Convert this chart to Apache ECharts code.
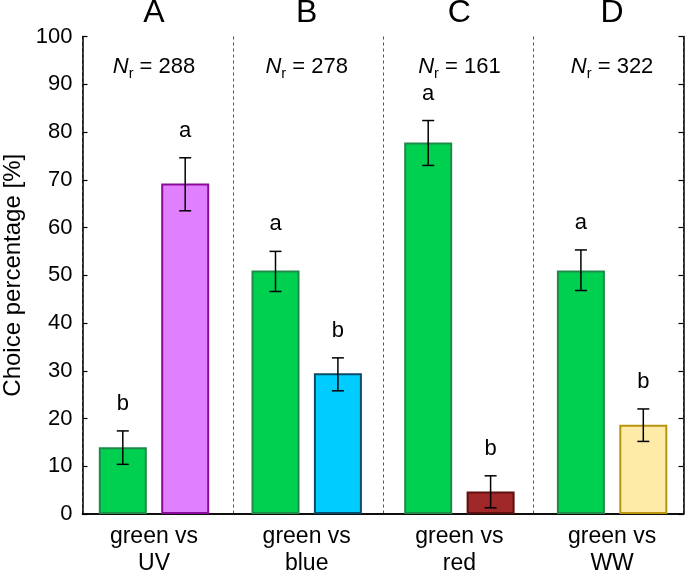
<!DOCTYPE html>
<html><head><meta charset="utf-8">
<script src="https://cdn.jsdelivr.net/npm/echarts@6/dist/echarts.min.js"></script>
<style>html,body{margin:0;padding:0;background:#fff}#c{width:685px;height:575px}</style>
</head><body><div id="c"></div>
<script>
// ---- data ----
const categories = ['green vs\nUV', 'green vs\nblue', 'green vs\nred', 'green vs\nWW'];
const panelLabels = ['A', 'B', 'C', 'D'];
const nValues = [288, 278, 161, 322];
const greenValues = [14.0, 51.0, 77.8, 51.0];
const greenErrLow = [10.4, 46.6, 73.0, 46.8];
const greenErrHigh = [17.4, 55.0, 82.4, 55.3];
const greenLetters = ['b', 'a', 'a', 'a'];
const altValues = [69.2, 29.5, 4.7, 18.7];
const altErrLow = [63.5, 25.8, 1.3, 15.2];
const altErrHigh = [74.6, 32.7, 8.0, 22.0];
const altLetters = ['a', 'b', 'b', 'b'];
const yMin = 0, yMax = 100, yStep = 10;

// ---- styles ----
const FONT = '"Liberation Sans", Arial, Helvetica, sans-serif';
const greenFill = '#00D050', greenBorder = '#1E8A48';
const altFill = ['#E080FF', '#00CCFF', '#A02828', '#FFEBA8'];
const altBorder = ['#8A0A9A', '#0B4A66', '#5E1010', '#B8960E'];
const BAR_W = 48, BAR_GAP = 0.3;
const LETTER_OFFSET = 27;
const N_LABEL_Y = 94.0;

function makeErrRender(lowArr, highArr, letters, side) {
  return function (params, api) {
    const i = params.dataIndex;
    const lo = api.coord([i, lowArr[i]]);
    const hi = api.coord([i, highArr[i]]);
    const off = BAR_W * (1 + BAR_GAP) / 2 * side;
    const x = lo[0] + off;
    const cap = 6;
    const ls = { stroke: '#000', lineWidth: 1.5 };
    return {
      type: 'group',
      children: [
        { type: 'line', shape: { x1: x, y1: lo[1], x2: x, y2: hi[1] }, style: ls },
        { type: 'line', shape: { x1: x - cap, y1: lo[1], x2: x + cap, y2: lo[1] }, style: ls },
        { type: 'line', shape: { x1: x - cap, y1: hi[1], x2: x + cap, y2: hi[1] }, style: ls },
        { type: 'text', x: x, y: hi[1] - LETTER_OFFSET,
          style: { text: letters[i], fill: '#000', fontSize: 22, fontFamily: FONT, align: 'center', verticalAlign: 'middle' } }
      ]
    };
  };
}

function nRender(params, api) {
  const i = params.dataIndex;
  const p = api.coord([i, N_LABEL_Y]);
  return {
    type: 'text', x: p[0], y: p[1],
    style: {
      text: '{i|N}{s|r}{t| = ' + nValues[i] + '}',
      align: 'center', verticalAlign: 'middle',
      rich: {
        i: { fontSize: 22, fontStyle: 'italic', fontFamily: FONT, fill: '#000', verticalAlign: 'bottom', lineHeight: 25 },
        s: { fontSize: 14.5, fontFamily: FONT, fill: '#000', verticalAlign: 'bottom', lineHeight: 25, padding: [0, 0, -4, 0] },
        t: { fontSize: 22, fontFamily: FONT, fill: '#000', verticalAlign: 'bottom', lineHeight: 25 }
      }
    }
  };
}

const frameLine = { color: '#000', width: 1.5 };
const tickStyle = { show: true, inside: true, length: 5, lineStyle: { color: '#000', width: 1.2 } };

const chart = echarts.init(document.getElementById('c'), null, { renderer: 'canvas' });
chart.setOption({
  animation: false,
  textStyle: { fontFamily: FONT, color: '#000' },
  grid: [
    // frame grid
    { left: 82.5, right: 1.5, top: 36.5, bottom: 61, outerBoundsMode: 'none', containLabel: false },
    // data grid (bars sit on a slightly wider band than the frame)
    { left: 77.65, right: -3.45, top: 36.5, bottom: 61, outerBoundsMode: 'none', containLabel: false }
  ],
  xAxis: [
    {
      gridIndex: 0, type: 'category', position: 'bottom', data: categories,
      axisLine: { lineStyle: frameLine }, axisTick: { show: false }, axisLabel: { show: false },
      splitLine: { show: true, lineStyle: { type: [3, 3], color: '#555', width: 1 } }
    },
    {
      gridIndex: 0, type: 'category', position: 'top', data: panelLabels,
      axisLine: { lineStyle: frameLine }, axisTick: { show: false }, axisLabel: { show: false },
      splitLine: { show: false }
    },
    {
      gridIndex: 1, type: 'category', position: 'bottom', data: categories,
      axisLine: { show: false }, axisTick: { show: false },
      axisLabel: { fontSize: 23, color: '#000', lineHeight: 27, margin: 9, fontFamily: FONT },
      splitLine: { show: false }
    },
    {
      gridIndex: 1, type: 'category', position: 'top', data: panelLabels,
      axisLine: { show: false }, axisTick: { show: false },
      axisLabel: { fontSize: 32, color: '#000', margin: 7, fontFamily: FONT },
      splitLine: { show: false }
    }
  ],
  yAxis: [
    {
      gridIndex: 0, type: 'value', min: yMin, max: yMax, interval: yStep,
      name: 'Choice percentage [%]', nameLocation: 'middle', nameGap: 40, nameRotate: 90,
      nameTextStyle: { fontSize: 24, color: '#000', fontFamily: FONT },
      axisLine: { show: true, lineStyle: frameLine }, axisTick: tickStyle,
      axisLabel: { fontSize: 22, color: '#000', margin: 10, fontFamily: FONT },
      splitLine: { show: false }
    },
    {
      gridIndex: 0, type: 'value', min: yMin, max: yMax, interval: yStep, position: 'right',
      axisLine: { show: true, lineStyle: frameLine }, axisTick: tickStyle,
      axisLabel: { show: false }, splitLine: { show: false }
    },
    {
      gridIndex: 1, type: 'value', min: yMin, max: yMax, interval: yStep,
      axisLine: { show: false }, axisTick: { show: false }, axisLabel: { show: false }, splitLine: { show: false }
    }
  ],
  series: [
    {
      type: 'bar', name: 'green', xAxisIndex: 2, yAxisIndex: 2, data: greenValues,
      barWidth: BAR_W, barGap: (BAR_GAP * 100) + '%',
      itemStyle: { color: greenFill, borderColor: greenBorder, borderWidth: 2 }
    },
    {
      type: 'bar', name: 'alt', xAxisIndex: 2, yAxisIndex: 2, barWidth: BAR_W, barGap: (BAR_GAP * 100) + '%',
      data: altValues.map((v, i) => ({ value: v, itemStyle: { color: altFill[i], borderColor: altBorder[i], borderWidth: 2 } }))
    },
    {
      type: 'custom', name: 'greenErr', xAxisIndex: 2, yAxisIndex: 2,
      renderItem: makeErrRender(greenErrLow, greenErrHigh, greenLetters, -1),
      data: greenValues.map((v, i) => [i, greenErrHigh[i]]), z: 5
    },
    {
      type: 'custom', name: 'altErr', xAxisIndex: 2, yAxisIndex: 2,
      renderItem: makeErrRender(altErrLow, altErrHigh, altLetters, 1),
      data: altValues.map((v, i) => [i, altErrHigh[i]]), z: 5
    },
    {
      type: 'custom', name: 'nLabels', xAxisIndex: 2, yAxisIndex: 2, renderItem: nRender,
      data: nValues.map((v, i) => [i, N_LABEL_Y]), z: 5
    }
  ]
});
</script>
</body></html>
